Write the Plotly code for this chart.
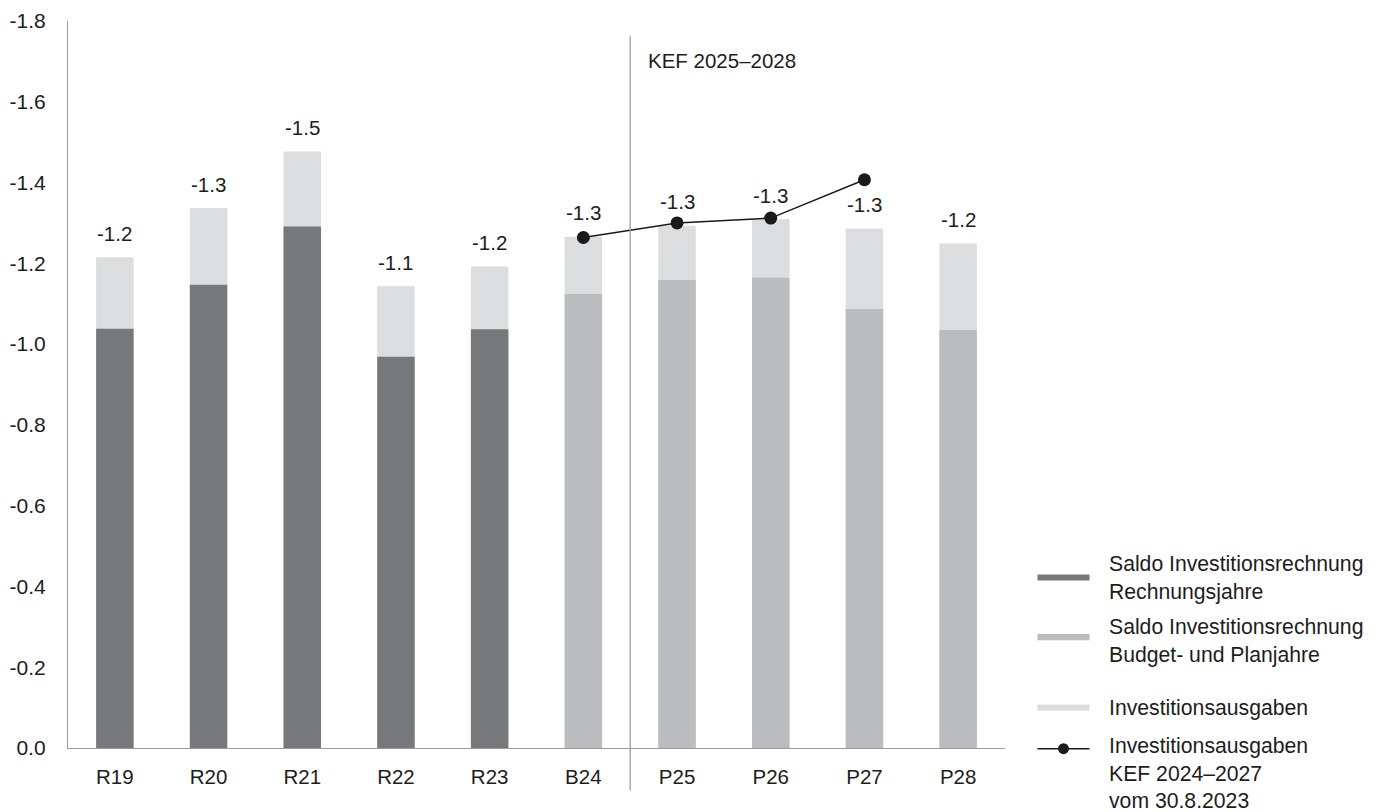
import plotly.graph_objects as go

# ---------------- data ----------------
categories = ["R19", "R20", "R21", "R22", "R23", "B24", "P25", "P26", "P27", "P28"]
ausgaben = [-1.215, -1.337, -1.477, -1.143, -1.192, -1.266, -1.293, -1.309, -1.286, -1.249]
ausgaben_labels = ["-1.2", "-1.3", "-1.5", "-1.1", "-1.2", "-1.3", "-1.3", "-1.3", "-1.3", "-1.2"]
saldo_rechnung_cats = ["R19", "R20", "R21", "R22", "R23"]
saldo_rechnung = [-1.038, -1.147, -1.291, -0.969, -1.037]
saldo_plan_cats = ["B24", "P25", "P26", "P27", "P28"]
saldo_plan = [-1.124, -1.159, -1.164, -1.087, -1.035]
kef_cats = ["B24", "P25", "P26", "P27"]
kef_values = [-1.264, -1.300, -1.312, -1.407]
y_tick_vals = [0.0, -0.2, -0.4, -0.6, -0.8, -1.0, -1.2, -1.4, -1.6, -1.8]
y_tick_text = ["0.0", "-0.2", "-0.4", "-0.6", "-0.8", "-1.0", "-1.2", "-1.4", "-1.6", "-1.8"]

name_rechnung = "Saldo Investitionsrechnung<br>Rechnungsjahre"
name_plan = "Saldo Investitionsrechnung<br>Budget- und Planjahre"
name_ausgaben = "Investitionsausgaben"
name_kef = "Investitionsausgaben<br>KEF 2024–2027<br>vom 30.8.2023"

# ---------------- style ----------------
C_DARK = "#77787b"
C_MID = "#bbbcbf"
C_LIGHT = "#dcdddf"
C_LINE = "#1a1a1a"
C_AXIS = "#9d9d9d"
C_TEXT = "#1d1d1b"
FONT = "Liberation Sans, Arial, Helvetica, sans-serif"
FS = 20.5
FS_TICK = 21
FS_LEG = 21.2
BAR_W = 0.4

fig = go.Figure()
fig.add_trace(go.Bar(x=categories, y=ausgaben, name=name_ausgaben, width=BAR_W,
                     marker=dict(color=C_LIGHT, line=dict(width=0)), showlegend=False))
fig.add_trace(go.Bar(x=saldo_rechnung_cats, y=saldo_rechnung, name=name_rechnung, width=BAR_W,
                     marker=dict(color=C_DARK, line=dict(width=0)), showlegend=False))
fig.add_trace(go.Bar(x=saldo_plan_cats, y=saldo_plan, name=name_plan, width=BAR_W,
                     marker=dict(color=C_MID, line=dict(width=0)), showlegend=False))
fig.add_trace(go.Scatter(x=kef_cats, y=kef_values, name=name_kef, mode="lines+markers",
                         line=dict(color=C_LINE, width=1.5),
                         marker=dict(color=C_LINE, size=13), showlegend=False))

annotations = []
for c, v, t in zip(categories, ausgaben, ausgaben_labels):
    annotations.append(dict(x=c, y=v, xref="x", yref="y", text=t, showarrow=False,
                            yanchor="middle", yshift=24, font=dict(size=FS, color=C_TEXT)))

# KEF period label and separator
annotations.append(dict(x=0.617, y=0.945, xref="paper", yref="paper", text="KEF 2025–2028",
                        showarrow=False, xanchor="left", yanchor="middle",
                        font=dict(size=FS, color=C_TEXT)))
sep_x = categories.index("P25") - 0.5
shapes = [dict(type="line", xref="x", yref="paper", x0=sep_x, x1=sep_x, y0=-0.058, y1=0.979,
               line=dict(color=C_AXIS, width=1.3), layer="above")]

# custom legend (paper coordinates)
lx0, lx1 = 1.0347, 1.0902
tx = 1.1085
legend_items = [
    (name_rechnung, C_DARK, 0.2345, 0.2345),
    (name_plan, C_MID, 0.1525, 0.147),
    (name_ausgaben, C_LIGHT, 0.0555, 0.0555),
]
for text, col, sy, ty in legend_items:
    shapes.append(dict(type="rect", xref="paper", yref="paper", x0=lx0, x1=lx1,
                       y0=sy - 0.0042, y1=sy + 0.0042, fillcolor=col, line=dict(width=0)))
    annotations.append(dict(x=tx, y=ty, xref="paper", yref="paper", text=text, showarrow=False,
                            xanchor="left", yanchor="middle", align="left",
                            font=dict(size=FS_LEG, color=C_TEXT)))
ly = -0.001
shapes.append(dict(type="line", xref="paper", yref="paper", x0=lx0, x1=lx1, y0=ly, y1=ly,
                   line=dict(color=C_LINE, width=1.5)))
shapes.append(dict(type="circle", xref="paper", yref="paper",
                   x0=(lx0 + lx1) / 2 - 0.0058, x1=(lx0 + lx1) / 2 + 0.0058,
                   y0=ly - 0.0075, y1=ly + 0.0075, fillcolor=C_LINE, line=dict(width=0)))
annotations.append(dict(x=tx, y=ly + 0.0235, xref="paper", yref="paper", text=name_kef,
                        showarrow=False, xanchor="left", yanchor="top", align="left",
                        font=dict(size=FS_LEG, color=C_TEXT)))

# the page body has an 8px margin, so the figure is sized and offset to compensate
fig.update_layout(
    width=1377, height=804,
    margin=dict(l=60, r=379.5, t=12.7, b=63.7, autoexpand=False),
    paper_bgcolor="white", plot_bgcolor="white",
    barmode="overlay",
    font=dict(family=FONT, size=FS, color=C_TEXT),
    showlegend=False,
    annotations=annotations,
    shapes=shapes,
    xaxis=dict(type="category", categoryorder="array", categoryarray=categories,
               range=[-0.5, len(categories) - 0.5], automargin=False,
               showline=True, linecolor=C_AXIS, linewidth=1.3, showgrid=False,
               ticks="", ticklabelstandoff=10, tickfont=dict(size=FS, color=C_TEXT)),
    yaxis=dict(range=[0, -1.8], tickvals=y_tick_vals, ticktext=y_tick_text, automargin=False,
               showline=True, linecolor=C_AXIS, linewidth=1.3, showgrid=False, zeroline=False,
               ticks="", ticklabelstandoff=17, tickfont=dict(size=FS_TICK, color=C_TEXT)),
)

fig.write_html("out.html")
